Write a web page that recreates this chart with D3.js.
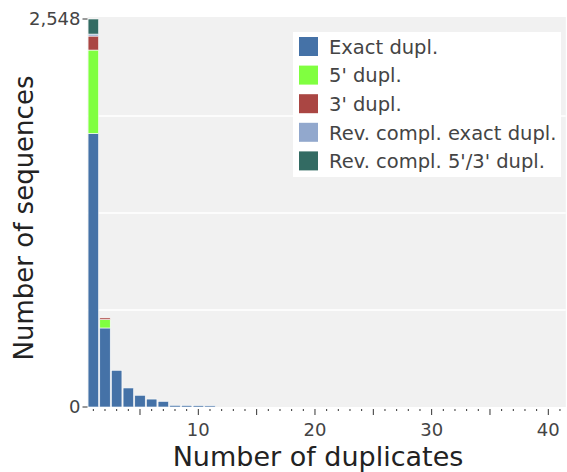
<!DOCTYPE html>
<html>
<head>
<meta charset="utf-8">
<script src="https://cdn.jsdelivr.net/npm/d3@7"></script>
<style>
	body { margin: 0; background: #fff; }
	svg { font-family: 'DejaVu Sans', sans-serif; }
</style>
</head>
<body>
<svg id="chart" width="567" height="472"></svg>
<script>
// number of duplicates 1..41
const duplicates = d3.range(1, 42);
const seriesNames = ['Exact dupl.', "5' dupl.", "3' dupl.", 'Rev. compl. exact dupl.', "Rev. compl. 5'/3' dupl."];
const seriesColors = ['#4572a7', '#80ff40', '#aa4643', '#92a8cd', '#336b63'];

const exact = [1797, 519, 241, 125, 77, 52, 37, 11, 10, 9, 8];
const fivePrime = [547, 55];
const threePrime = [92, 11];
const revExact = [13, 0];
const revFiveThree = [99, 0];

const yTicks = [0, 637, 1274, 1911, 2548];
const yLabels = [0, 2548];
const xLabels = [10, 20, 30, 40];

const seriesValues = [exact, fivePrime, threePrime, revExact, revFiveThree];
const table = duplicates.map((d, i) => {
	const row = { n: d };
	seriesNames.forEach((s, j) => (row[s] = seriesValues[j][i] || 0));
	return row;
});

const margin = { left: 87.5, right: 1.2, top: 19, bottom: 65 };
const width = 567;
const height = 472;

const svg = d3.select('#chart');

const x = d3
	.scaleBand()
	.domain(duplicates)
	.range([margin.left, width - margin.right])
	.paddingInner(0.1)
	.paddingOuter(0.05);

const y = d3
	.scaleLinear()
	.domain([0, 2548])
	.range([height - margin.bottom, margin.top]);

// background
svg.append('rect')
	.attr('x', margin.left)
	.attr('y', margin.top - 2)
	.attr('width', width - margin.right - margin.left)
	.attr('height', y(0) - margin.top + 2)
	.attr('fill', '#f1f1f1');

svg.append('g')
	.selectAll('line')
	.data(yTicks.slice(1, -1))
	.join('line')
	.attr('x1', margin.left)
	.attr('x2', width - margin.right)
	.attr('y1', (d) => y(d))
	.attr('y2', (d) => y(d))
	.attr('stroke', '#fff')
	.attr('stroke-width', 1.5);

const stacked = d3.stack().keys(seriesNames)(table);

svg.append('g')
	.selectAll('g')
	.data(stacked)
	.join('g')
	.attr('fill', (d, i) => seriesColors[i])
	.selectAll('rect')
	.data((d) => d.filter((p) => p[1] - p[0] > 0))
	.join('rect')
	.attr('x', (d) => x(d.data.n))
	.attr('width', x.bandwidth())
	.attr('y', (d) => y(d[1]))
	.attr('height', (d) => y(d[0]) - y(d[1]))
	.attr('stroke', '#fff')
	.attr('stroke-width', 0.6);

// x axis
const xAxis = svg.append('g').attr('transform', `translate(0,${y(0)})`);
xAxis.selectAll('line')
	.data(duplicates)
	.join('line')
	.attr('x1', (d) => x(d) + x.bandwidth() / 2)
	.attr('x2', (d) => x(d) + x.bandwidth() / 2)
	.attr('y1', 2)
	.attr('y2', (d) => (d % 5 === 0 ? 8 : 4))
	.attr('stroke', '#333')
	.attr('stroke-width', 1);
xAxis.selectAll('text')
	.data(xLabels)
	.join('text')
	.attr('x', (d) => x(d) + x.bandwidth() / 2)
	.attr('y', 29)
	.attr('text-anchor', 'middle')
	.attr('fill', '#444')
	.attr('font-size', 18)
	.text((d) => d);

// y axis
const yAxis = svg.append('g');
yAxis.selectAll('line')
	.data(yLabels)
	.join('line')
	.attr('x1', margin.left - 5)
	.attr('x2', margin.left)
	.attr('y1', (d) => y(d))
	.attr('y2', (d) => y(d))
	.attr('stroke', '#333');
yAxis.selectAll('text')
	.data(yLabels)
	.join('text')
	.attr('x', margin.left - 7)
	.attr('y', (d) => y(d))
	.attr('dy', '0.35em')
	.attr('text-anchor', 'end')
	.attr('fill', '#444')
	.attr('font-size', 18)
	.text((d) => d3.format(',')(d));

// titles
svg.append('text')
	.attr('x', 318)
	.attr('y', 466)
	.attr('text-anchor', 'middle')
	.attr('font-size', 27)
	.attr('fill', '#222')
	.text('Number of duplicates');

svg.append('text')
	.attr('transform', 'translate(33,218) rotate(-90)')
	.attr('text-anchor', 'middle')
	.attr('font-size', 26)
	.attr('fill', '#222')
	.text('Number of sequences');

// legend
const legend = svg.append('g').attr('transform', 'translate(293,32)');
legend.append('rect')
	.attr('width', 268)
	.attr('height', 145)
	.attr('fill', '#fff');
const items = legend
	.selectAll('g')
	.data(seriesNames)
	.join('g')
	.attr('transform', (d, i) => `translate(6,${5 + i * 28.6})`);
items.append('rect')
	.attr('width', 19)
	.attr('height', 19)
	.attr('fill', (d, i) => seriesColors[i]);
items.append('text')
	.attr('x', 30)
	.attr('y', 10)
	.attr('dy', '0.35em')
	.attr('font-size', 19.5)
	.attr('fill', '#444')
	.text((d) => d);
</script>
</body>
</html>
